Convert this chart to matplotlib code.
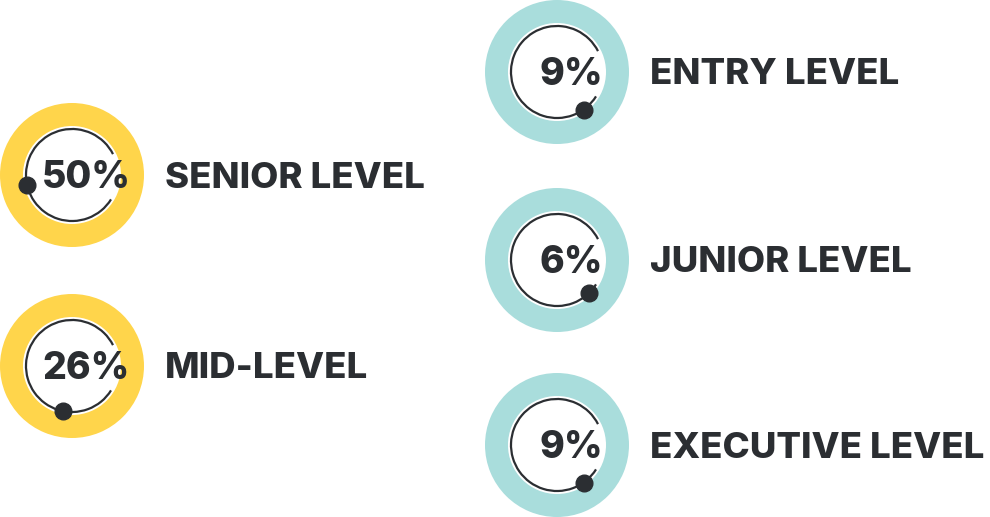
import matplotlib
matplotlib.use("Agg")
import numpy as np
import matplotlib.pyplot as plt
from matplotlib.patches import Circle, Wedge, Arc

# data
labels = ["SENIOR LEVEL", "MID-LEVEL", "ENTRY LEVEL", "JUNIOR LEVEL", "EXECUTIVE LEVEL"]
values = [50, 26, 9, 6, 9]
groups = ["yellow", "yellow", "teal", "teal", "teal"]

# layout (pixels)
centers = [(72, 175), (72, 366), (557, 72), (557, 260), (557, 445)]
ring_col = {"yellow": "#FFD54B", "teal": "#A9DDDC"}
dark = "#2B2E32"
r_out, r_in, r_line = 72, 48, 46
gap_lo, gap_hi = -32, 27   # visual angles (deg) of the gap in the thin ring

plt.rcParams["font.family"] = ["Inter", "DejaVu Sans"]

fig = plt.figure(figsize=(9.9, 5.17), dpi=100)
ax = fig.add_axes([0, 0, 1, 1])
ax.set_xlim(0, 990)
ax.set_ylim(517, 0)
ax.set_aspect("equal")
ax.axis("off")

for lab, v, g, (cx, cy) in zip(labels, values, groups, centers):
    ax.add_patch(Wedge((cx, cy), r_out, 0, 360, width=r_out - r_in, color=ring_col[g], lw=0))
    ax.add_patch(Circle((cx, cy), r_in + 1, color="white", lw=0))
    # y axis is inverted, so data angle = -visual angle
    ax.add_patch(Arc((cx, cy), 2 * r_line, 2 * r_line, theta1=-gap_lo, theta2=360 - gap_hi,
                     color=dark, lw=1.6))
    a = np.deg2rad(-30 - v * 2.75)
    ax.plot(cx + r_line * np.cos(a), cy - r_line * np.sin(a), "o", ms=12, color=dark)
    ax.text(cx + 14, cy + 3, f"{v}%", fontsize=27, fontweight=800, color=dark,
            ha="center", va="center")
    ax.text(cx + 93, cy + 3, lab, fontsize=26.3, fontweight=800, color=dark,
            ha="left", va="center")

fig.savefig("out.png", dpi=100)
